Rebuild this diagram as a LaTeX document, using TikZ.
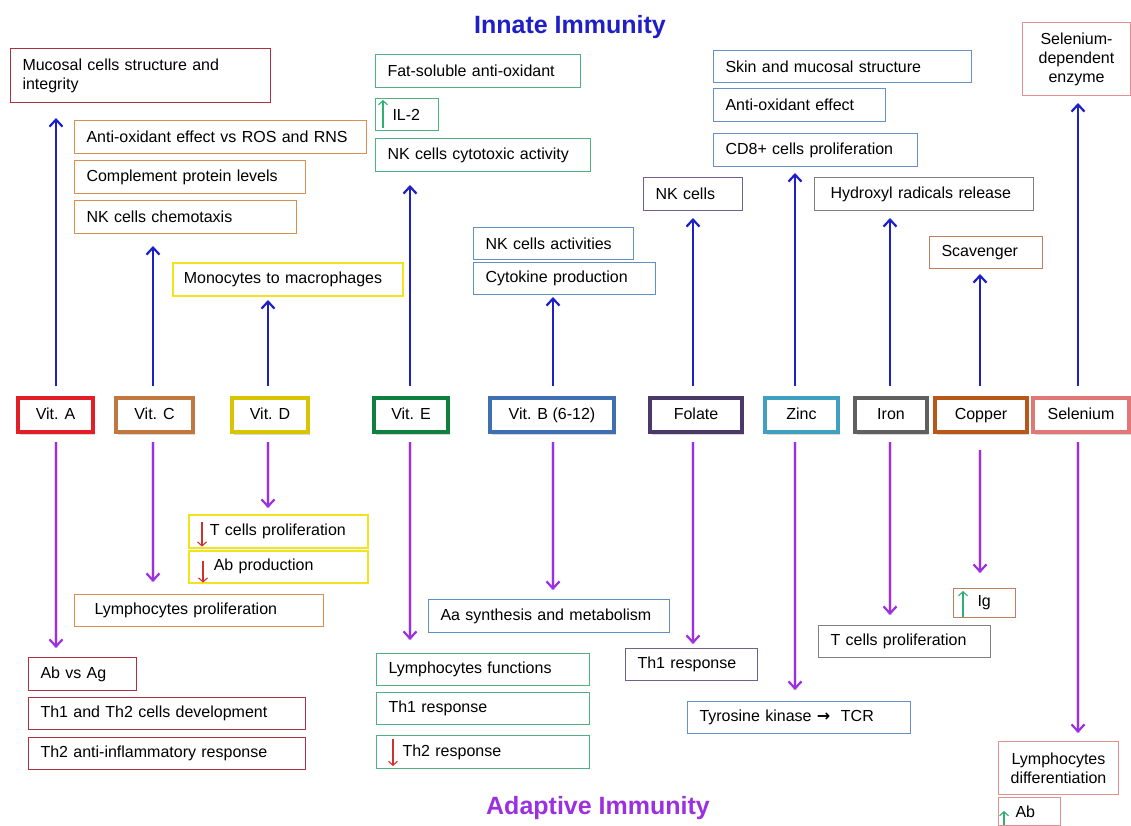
\documentclass[tikz,border=0pt]{standalone}
\usepackage{fontspec}
\setmainfont{Liberation Sans}
\newfontfamily\djv{DejaVu Sans}
\usetikzlibrary{shadows,arrows.meta}
\definecolor{tblue}{HTML}{1F1FC8}
\definecolor{tpurp}{HTML}{9B30E0}
\definecolor{cA}{HTML}{E41E26}
\definecolor{bA}{HTML}{B03040}
\definecolor{cC}{HTML}{C07840}
\definecolor{bC}{HTML}{D89050}
\definecolor{cD}{HTML}{D8C400}
\definecolor{bD}{HTML}{F2E41C}
\definecolor{cE}{HTML}{108040}
\definecolor{bE}{HTML}{50B080}
\definecolor{cB}{HTML}{3F6FB0}
\definecolor{bB}{HTML}{6090C0}
\definecolor{cF}{HTML}{4A3868}
\definecolor{bF}{HTML}{706090}
\definecolor{cZ}{HTML}{40A0C0}
\definecolor{bZ}{HTML}{6890C8}
\definecolor{cI}{HTML}{606060}
\definecolor{bI}{HTML}{808080}
\definecolor{cCu}{HTML}{B85818}
\definecolor{bCu}{HTML}{C08060}
\definecolor{cS}{HTML}{E07878}
\definecolor{bS}{HTML}{E09090}
\definecolor{dred}{HTML}{D03030}
\definecolor{dgreen}{HTML}{30B070}
\tikzset{
  bx/.style={draw=#1, line width=1pt, anchor=north west, inner xsep=12pt, inner ysep=0pt,
    align=left, font=\fontsize{16}{19}\selectfont},
  cbx/.style={draw=#1, line width=1pt, anchor=north west, inner xsep=4pt, inner ysep=0pt,
    align=center, font=\fontsize{16}{19}\selectfont},
  vit/.style={draw=#1, line width=3.8pt, fill=white, minimum height=34pt, inner sep=0pt,
    text height=11.5pt, text depth=3.5pt,
    font=\fontsize{16}{19}\selectfont, drop shadow={shadow xshift=1.5pt, shadow yshift=-3pt, opacity=0.3}},
  uparr/.style={draw=tblue, line width=2.2pt, shorten <=10pt, -{Straight Barb[length=7pt,width=13pt]}},
  dnarr/.style={draw=tpurp, line width=2.2pt, shorten <=8pt, -{Straight Barb[length=7pt,width=13pt]},
    preaction={draw=tpurp!40, line width=4pt, opacity=0.5, -{}}},
  smallarr/.style={line width=1.1pt, -{Straight Barb[length=4pt,width=9pt]}},
  ttl/.style={font=\fontsize{25}{30}\selectfont\bfseries}
}
\begin{document}
\begin{tikzpicture}[x=1pt,y=-1pt]
\useasboundingbox (0,0) rectangle (1131,825);
\fill[white] (0,0) rectangle (1131,825);
% titles
\node[ttl, text=tblue] (innate) at (570,27) {Innate Immunity};
\node[ttl, text=tpurp] (adaptive) at (598,808) {Adaptive Immunity};
% vitamin boxes
\node[vit=cA, minimum width=75pt] (vA) at (55.5,415) {Vit. A};
\node[vit=cC, minimum width=77pt] (vC) at (154.5,415) {Vit. C};
\node[vit=cD, minimum width=76pt] (vD) at (270,415) {Vit. D};
\node[vit=cE, minimum width=74pt] (vE) at (411,415) {Vit. E};
\node[vit=cB, minimum width=124pt] (vB) at (552,415) {Vit. B (6-12)};
\node[vit=cF, minimum width=92pt] (vF) at (696,415) {Folate};
\node[vit=cZ, minimum width=73pt] (vZ) at (801.5,415) {Zinc};
\node[vit=cI, minimum width=72pt] (vI) at (891,415) {Iron};
\node[vit=cCu, minimum width=92pt] (vCu) at (981,415) {Copper};
\node[vit=cS, minimum width=96pt] (vS) at (1081,415) {Selenium};
% upper boxes
\node[bx=bA, text width=236pt, minimum height=54pt] (mucosal) at (10,48) {Mucosal cells structure and\\integrity};
\node[bx=bC, text width=268pt, minimum height=33pt] (antioxC) at (74,120) {Anti-oxidant effect vs ROS and RNS};
\node[bx=bC, text width=207pt, minimum height=33pt] (compl) at (74,160) {Complement protein levels};
\node[bx=bC, text width=198pt, minimum height=33pt] (nkchemo) at (74,200) {NK cells chemotaxis};
\node[bx=bD, text width=208pt, minimum height=33pt, inner xsep=11pt, line width=1.6pt] (mono) at (172,262) {Monocytes to macrophages};
\node[bx=bE, text width=181pt, minimum height=33pt] (fatsol) at (375,54) {Fat-soluble anti-oxidant};
\node[bx=bE, text width=29pt, minimum height=32pt, inner xsep=17pt] (il2) at (375,98) {IL-2};
\node[bx=bE, text width=191pt, minimum height=33pt] (nkcyto) at (375,138) {NK cells cytotoxic activity};
\node[bx=bB, text width=136pt, minimum height=32pt] (nkact) at (473,227) {NK cells activities};
\node[bx=bB, text width=158pt, minimum height=32pt] (cyto) at (473,262) {Cytokine production};
\node[bx=bF, text width=75pt, minimum height=33pt] (nkF) at (643,177) {NK cells};
\node[bx=bZ, text width=234pt, minimum height=32pt] (skin) at (713,50) {Skin and mucosal structure};
\node[bx=bZ, text width=148pt, minimum height=33pt] (antioxZ) at (713,88) {Anti-oxidant effect};
\node[bx=bZ, text width=180pt, minimum height=33pt] (cd8) at (713,133) {CD8+ cells proliferation};
\node[bx=bI, text width=187pt, minimum height=33pt, inner xsep=16pt] (hydro) at (814,177) {Hydroxyl radicals release};
\node[bx=bCu, text width=89pt, minimum height=32pt] (scav) at (929,236) {Scavenger};
\node[cbx=bS, text width=100pt, minimum height=73pt] (selenz) at (1022,22) {Selenium-\\dependent\\enzyme};
% lower boxes
\node[bx=bD, text width=137pt, minimum height=33pt, inner xsep=21pt, line width=1.6pt] (tcD) at (188,514) {T cells proliferation};
\node[bx=bD, text width=129pt, minimum height=32pt, inner xsep=25pt, line width=1.6pt] (abD) at (188,550) {Ab production};
\node[bx=bC, text width=209pt, minimum height=32pt, inner xsep=20pt] (lymC) at (74,594) {Lymphocytes proliferation};
\node[bx=bA, text width=84pt, minimum height=33pt] (abag) at (28,657) {Ab vs Ag};
\node[bx=bA, text width=253pt, minimum height=32pt] (th12) at (28,697) {Th1 and Th2 cells development};
\node[bx=bA, text width=253pt, minimum height=32pt] (th2a) at (28,737) {Th2 anti-inflammatory response};
\node[bx=bE, text width=189pt, minimum height=32pt] (lymfun) at (376,653) {Lymphocytes functions};
\node[bx=bE, text width=189pt, minimum height=32pt] (th1E) at (376,692) {Th1 response};
\node[bx=bE, text width=161pt, minimum height=33pt, inner xsep=26pt] (th2E) at (376,735) {Th2 response};
\node[bx=bB, text width=217pt, minimum height=33pt] (aa) at (428,599) {Aa synthesis and metabolism};
\node[bx=bF, text width=108pt, minimum height=32pt] (th1F) at (625,648) {Th1 response};
\node[bx=bZ, text width=199pt, minimum height=32pt] (tyro) at (687,701) {Tyrosine kinase {\djv\bfseries →}\ \ TCR};
\node[bx=bI, text width=148pt, minimum height=32pt] (tcI) at (818,625) {T cells proliferation};
\node[bx=bCu, text width=14pt, minimum height=29pt, inner xsep=24pt] (ig) at (953,588) {Ig};
\node[cbx=bS, text width=112pt, minimum height=53pt] (lymdif) at (998,741) {Lymphocytes\\differentiation};
\node[bx=bS, text width=28pt, minimum height=28pt, inner xsep=17pt] (abS) at (998,797) {Ab};
% small up/down marks inside boxes
\draw[smallarr, dred] ([xshift=14pt,yshift=-8pt]tcD.north west) -- ([xshift=14pt,yshift=2pt]tcD.south west);
\draw[smallarr, dred] ([xshift=15pt,yshift=-11pt]abD.north west) -- ([xshift=15pt,yshift=1pt]abD.south west);
\draw[smallarr, dred] ([xshift=17pt,yshift=-4pt]th2E.north west) -- ([xshift=17pt,yshift=3pt]th2E.south west);
\draw[smallarr, dgreen] ([xshift=8pt,yshift=3pt]il2.south west) -- ([xshift=8pt,yshift=-2pt]il2.north west);
\draw[smallarr, dgreen] ([xshift=10pt,yshift=1pt]ig.south west) -- ([xshift=10pt,yshift=-3pt]ig.north west);
\draw[smallarr, dgreen] ([xshift=6pt,yshift=1pt]abS.south west) -- ([xshift=6pt,yshift=-14pt]abS.north west);
% arrow free ends
\coordinate (uA) at (56,118);
\coordinate (uC) at (153,246);
\coordinate (uD) at (268,300);
\coordinate (uE) at (410,185);
\coordinate (uB) at (553,297);
\coordinate (uF) at (693,218);
\coordinate (uZ) at (795,173);
\coordinate (uI) at (890,218);
\coordinate (uCu) at (980,274);
\coordinate (uS) at (1078,103);
\coordinate (dA) at (56,648);
\coordinate (dC) at (153,582);
\coordinate (dD) at (268,508);
\coordinate (dE) at (410,640);
\coordinate (dB) at (553,590);
\coordinate (dF) at (693,644);
\coordinate (dZ) at (795,690);
\coordinate (dI) at (890,615);
\coordinate (dCu) at (980,573);
\coordinate (dS) at (1078,733);
% up arrows
\foreach \v in {A,C,D,E,B,F,Z,I,Cu,S}{
  \draw[uparr] (v\v.north -| u\v) -- (u\v);
}
% down arrows
\foreach \v in {A,C,D,E,B,F,Z,I,S}{
  \draw[dnarr] (v\v.south -| d\v) -- (d\v);
}
\draw[dnarr, shorten <=16pt] (vCu.south -| dCu) -- (dCu);
\end{tikzpicture}
\end{document}
